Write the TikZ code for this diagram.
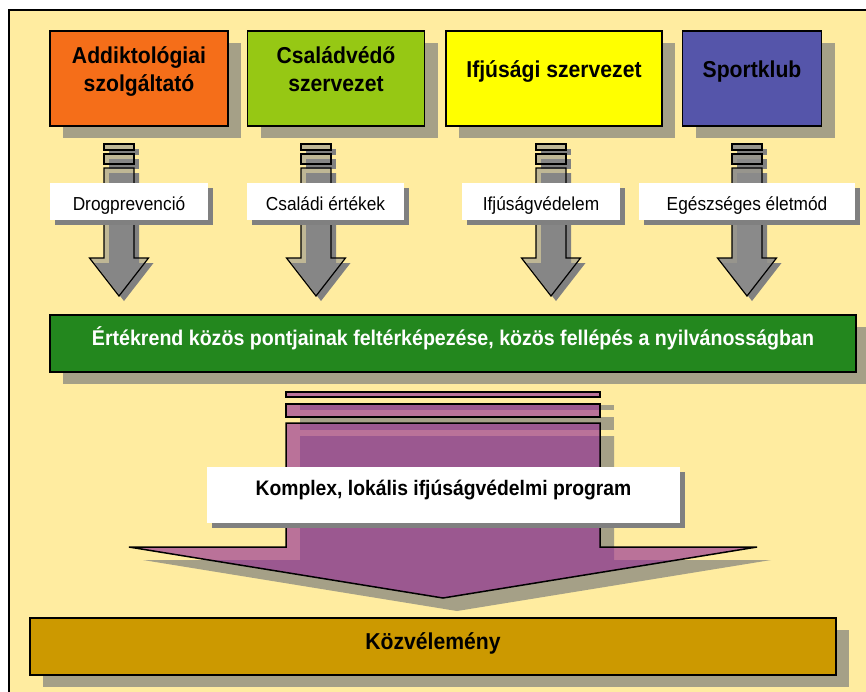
\documentclass[tikz,border=0pt]{standalone}
\usepackage{fontspec}
\setmainfont{Liberation Sans}[FakeStretch=0.92]
\definecolor{paperyellow}{RGB}{255,236,160}
\definecolor{orgorange}{RGB}{245,110,25}
\definecolor{orggreen}{RGB}{150,200,20}
\definecolor{orgyellow}{RGB}{255,255,0}
\definecolor{orgblue}{RGB}{85,85,170}
\definecolor{bandgreen}{RGB}{35,135,30}
\definecolor{progpurple}{RGB}{150,50,150}
\definecolor{publicgold}{RGB}{204,153,0}
\definecolor{flowgray}{RGB}{140,140,140}
\definecolor{shadowgray}{RGB}{165,160,135}
\definecolor{darkshadow}{RGB}{128,128,128}
\usetikzlibrary{positioning,shadows}

\begin{document}
\begin{tikzpicture}[x=1pt, y=-1pt,
        orgbox/.style={rectangle, draw=black, line width=1.5pt,
                       minimum height=95pt, align=center, text depth=18pt,
                       font=\bfseries\fontsize{23}{28}\selectfont,
                       drop shadow={shadow xshift=13pt, shadow yshift=-12pt,
                                    fill=shadowgray, opacity=1}},
        tagbox/.style={rectangle, fill=white, minimum height=37pt,
                       text height=17pt, text depth=0pt,
                       font=\fontsize{18.8}{22}\selectfont,
                       drop shadow={shadow xshift=5pt, shadow yshift=-5pt,
                                    fill=darkshadow, opacity=1}},
        widebox/.style={rectangle, draw=black, line width=1.5pt,
                        minimum width=806pt, minimum height=57pt,
                        font=\bfseries\fontsize{21.3}{25}\selectfont,
                        drop shadow={shadow xshift=13pt, shadow yshift=-12pt,
                                     fill=shadowgray, opacity=1}},
        flowarrow/.style={draw=black, line width=1.2pt, fill=flowgray,
                          drop shadow={shadow xshift=5pt, shadow yshift=-5pt,
                                       fill=darkshadow, opacity=1}},
        bigarrow/.style={draw=black, line width=1.5pt, fill=progpurple,
                         fill opacity=0.65,
                         drop shadow={shadow xshift=14pt, shadow yshift=-13pt,
                                      fill=shadowgray, opacity=1}}
    ]
        \useasboundingbox (0,0) rectangle (866,691);
        \fill[white] (0,0) rectangle (866,691);
        \draw[line width=1.5pt, fill=paperyellow] (9,10) rectangle (880,705);

        \node[orgbox, fill=orgorange, minimum width=178pt] (addikt) at (139,78.5)
             {Addiktológiai\\szolgáltató};
        \node[orgbox, fill=orggreen, minimum width=177pt, right=18pt of addikt] (csalad)
             {Családvédő\\szervezet};
        \node[orgbox, fill=orgyellow, minimum width=216pt, right=20pt of csalad] (ifju)
             {Ifjúsági szervezet};
        \node[orgbox, fill=orgblue, minimum width=139pt, right=19pt of ifju] (sport)
             {Sportklub};

        \foreach \ax/\op in {119/0.55, 316/0.55, 551/0.55, 747/0.9} {
            \draw[flowarrow, fill opacity=\op] (\ax-15,144) rectangle (\ax+15,150);
            \draw[flowarrow, fill opacity=\op] (\ax-15,154) rectangle (\ax+15,164);
            \draw[flowarrow, fill opacity=\op] (\ax-15,168) -- (\ax-15,258) -- (\ax-29.5,258)
                -- (\ax,296) -- (\ax+29.5,258) -- (\ax+15,258) -- (\ax+15,168) -- cycle;
        }

        \node[tagbox, minimum width=158pt] (drog)    at (129,201.5)   {Drogprevenció};
        \node[tagbox, minimum width=157pt] (ertek)   at (325.5,201.5) {Családi értékek};
        \node[tagbox, minimum width=158pt] (vedelem) at (541,201.5)   {Ifjúságvédelem};
        \node[tagbox, minimum width=216pt] (eletmod) at (747,201.5)   {Egészséges életmód};

        \node[widebox, fill=bandgreen, text=white, text depth=14pt] (ertekrend) at (453,343.5)
             {Értékrend közös pontjainak feltérképezése, közös fellépés a nyilvánosságban};

        \draw[bigarrow] (286,392) rectangle (600,397);
        \draw[bigarrow] (286,404) rectangle (600,417);
        \draw[bigarrow] (286,423) -- (286,547) -- (129,547) -- (443,598)
            -- (757,547) -- (600,547) -- (600,423) -- cycle;

        \node[tagbox, minimum width=473pt, minimum height=56pt, text height=15pt,
              text depth=15pt, font=\bfseries\fontsize{21}{25}\selectfont] (program)
              at (443.5,495) {Komplex, lokális ifjúságvédelmi program};

        \node[widebox, fill=publicgold, text depth=10pt,
              font=\bfseries\fontsize{23}{28}\selectfont] (kozvel) at (433,646.5)
             {Közvélemény};
    \end{tikzpicture}
\end{document}
